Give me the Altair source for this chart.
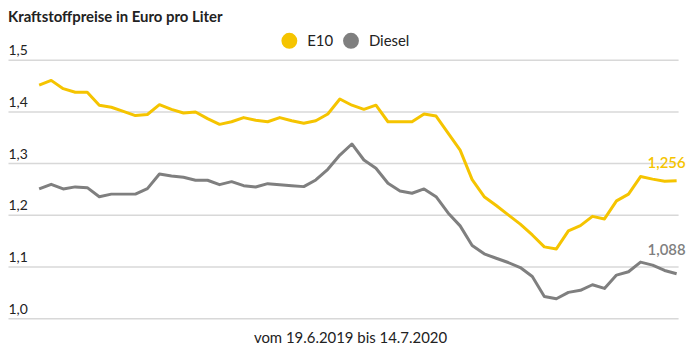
import altair as alt
import pandas as pd

weeks = list(range(54))
e10 = [1.451, 1.460, 1.444, 1.437, 1.437, 1.412, 1.408, 1.400, 1.392, 1.394,
       1.413, 1.404, 1.397, 1.399, 1.386, 1.375, 1.380, 1.388, 1.383, 1.380,
       1.388, 1.382, 1.377, 1.382, 1.395, 1.424, 1.412, 1.404, 1.412, 1.380,
       1.380, 1.380, 1.395, 1.391, 1.358, 1.325, 1.268, 1.235, 1.218, 1.200,
       1.182, 1.161, 1.138, 1.134, 1.169, 1.179, 1.197, 1.192, 1.227, 1.240,
       1.274, 1.269, 1.265, 1.266]
diesel = [1.250, 1.259, 1.250, 1.254, 1.2525, 1.235, 1.240, 1.240, 1.240, 1.2506,
          1.279, 1.275, 1.2726, 1.2668, 1.2668, 1.2583, 1.2641, 1.2564, 1.2539, 1.2602,
          1.2583, 1.2564, 1.2545, 1.2674, 1.288, 1.3156, 1.337, 1.306, 1.290, 1.261,
          1.246, 1.2417, 1.250, 1.2351, 1.2037, 1.1786, 1.1406, 1.1245, 1.116, 1.1077,
          1.098, 1.0807, 1.042, 1.0376, 1.050, 1.054, 1.0647, 1.0576, 1.0834, 1.0898,
          1.1085, 1.1027, 1.0923, 1.0859]
series = ["E10", "Diesel"]
colors = ["#f5c400", "#7f7f7f"]
y_ticks = [1.0, 1.1, 1.2, 1.3, 1.4, 1.5]
end_values = [1.256, 1.088]
end_labels = ["1,256", "1,088"]

df = pd.DataFrame({
    "week": weeks * 2,
    "series": ["E10"] * len(e10) + ["Diesel"] * len(diesel),
    "value": e10 + diesel,
})
lab = pd.DataFrame({
    "week": [weeks[-1]] * 2,
    "series": series,
    "value": end_values,
    "label": end_labels,
})

FONT = "Lato"
x = alt.X("week:Q",
          scale=alt.Scale(domain=[-2.59, 53.12], nice=False, zero=False),
          axis=alt.Axis(title="vom 19.6.2019 bis 14.7.2020", labels=False, ticks=False,
                        domain=False, grid=False, titleFont=FONT, titleFontSize=15,
                        titleFontWeight="normal", titleColor="#222222", titlePadding=12,
                        titleX=344, titleAlign="center"))
y = alt.Y("value:Q",
          scale=alt.Scale(domain=[1.0, 1.5], nice=False, zero=False),
          axis=alt.Axis(title=None, values=y_ticks,
                        labelExpr="replace(format(datum.value, '.1f'), '.', ',')",
                        ticks=False, domain=False, labelAlign="left", labelPadding=0,
                        labelBaseline="alphabetic", labelOffset=-5,
                        gridColor="#d8d8d8", gridWidth=1.5,
                        labelFont=FONT, labelFontSize=14, labelColor="#222222"))

color_scale = alt.Scale(domain=series, range=colors)

lines = alt.Chart(df).mark_line(strokeWidth=3, strokeJoin="round").encode(
    x=x, y=y,
    color=alt.Color("series:N", scale=color_scale,
                    legend=alt.Legend(title=None, orient="none", legendX=275, legendY=-27,
                                      direction="horizontal", symbolType="circle",
                                      symbolSize=64, symbolStrokeWidth=8,
                                      labelFont=FONT, labelFontSize=15, labelColor="#222222",
                                      columnPadding=-3, labelOffset=10, padding=0,
                                      symbolOpacity=1)),
)

texts = alt.Chart(lab).mark_text(align="right", baseline="middle", dx=9, dy=-23,
                                 font=FONT, fontSize=15, fontWeight=600).encode(
    x="week:Q", y="value:Q", text="label:N",
    color=alt.Color("series:N", scale=color_scale, legend=None),
)

chart = alt.layer(lines, texts).properties(
    width=674, height=260,
    title=alt.TitleParams("Kraftstoffpreise in Euro pro Liter", anchor="start", font=FONT,
                          fontSize=15, fontWeight="bold", color="#222222", offset=8),
    autosize=alt.AutoSizeParams(type="none"),
    padding={"left": 0, "top": 51, "right": 14, "bottom": 36},
).configure_view(stroke=None)

chart.save("out.html", embed_options={"renderer": "svg", "actions": False})
